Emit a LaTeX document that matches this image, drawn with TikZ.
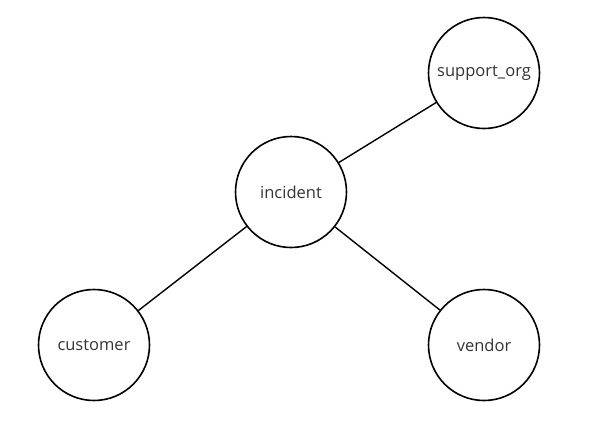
\documentclass[tikz,border=0pt]{standalone}
\usepackage{fontspec}
\setmainfont{Open Sans}
\begin{document}
\begin{tikzpicture}[x=1pt, y=-1pt, line cap=round, line join=round, font=\fontsize{16.5}{19}\selectfont]
			\tikzset{entity/.style={circle, draw=black, line width=1.6pt, minimum size=111pt, inner sep=0pt, text=black!80}}
			\useasboundingbox (0,0) rectangle (600,424);
			\node[entity] (incident) at (291,192) {incident};
			\node[entity] (support) at (484,73) {support\_org};
			\node[entity] (customer) at (94,345) {customer};
			\node[entity] (vendor) at (484,345) {vendor};
			\draw[line width=1.4pt] (incident)--(support);
			\draw[line width=1.4pt] (incident)--(customer);
			\draw[line width=1.4pt] (incident)--(vendor);
		\end{tikzpicture}
\end{document}
